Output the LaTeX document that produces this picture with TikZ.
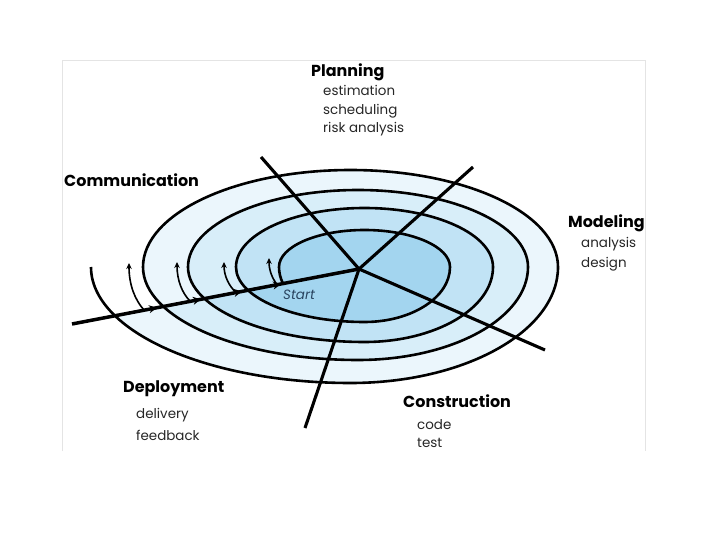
\documentclass[tikz,border=0pt]{standalone}
\usepackage{fontspec}
\setmainfont{Poppins}
\usetikzlibrary{arrows.meta}
\definecolor{cA}{HTML}{A3D5EF}
\definecolor{cB}{HTML}{C1E3F5}
\definecolor{cC}{HTML}{D8EEF9}
\definecolor{cD}{HTML}{EBF6FC}
\definecolor{framec}{HTML}{E4E4E4}
\definecolor{startc}{HTML}{2A4560}
\begin{document}
\begin{tikzpicture}[x=1bp,y=-1bp,
  ring/.style={line width=2.6bp, line join=round},
  spoke/.style={line width=3.1bp},
  mainln/.style={line width=3.5bp},
  lab/.style={anchor=base west, inner sep=0, font=\fontsize{16}{19}\selectfont\bfseries, text=black},
  sub/.style={anchor=base west, inner sep=0, font=\fontsize{13.5}{16}\selectfont, text=black!85},
  smallarr/.style={line width=1.6bp, -{Stealth[length=6bp,width=5.5bp]}},
  linetip/.style={line width=1.6bp, -{Stealth[length=8bp,width=8bp]}},
]
\useasboundingbox (0,0) rectangle (720,540);
\fill[white] (0,0) rectangle (720,540);
% frame
\draw[framec, line width=1bp] (62,451) -- (62,61) -- (645,61) -- (645,451);

% band fills (outer to inner)
\fill[cD] ([shift={(358,267)}]155:215 and 93) arc[start angle=155,end angle=180,x radius=215,y radius=93]
  arc[start angle=180,end angle=360,x radius=207.5,y radius=97]
  arc[start angle=0,end angle=90,x radius=207.5,y radius=116]
  arc[start angle=90,end angle=155,x radius=259.5,y radius=116] -- cycle;
\fill[cC] ([shift={(364.5,267)}]155:176.5 and 75) arc[start angle=155,end angle=180,x radius=176.5,y radius=75]
  arc[start angle=180,end angle=360,x radius=170,y radius=77]
  arc[start angle=0,end angle=90,x radius=170,y radius=93]
  arc[start angle=90,end angle=155,x radius=215,y radius=93] -- cycle;
\fill[cB] ([shift={(364.5,267)}]155:128.5 and 55) arc[start angle=155,end angle=180,x radius=128.5,y radius=55]
  arc[start angle=180,end angle=360,x radius=128.5,y radius=59]
  arc[start angle=0,end angle=90,x radius=128.5,y radius=75]
  arc[start angle=90,end angle=155,x radius=176.5,y radius=75] -- cycle;
\fill[cA] ([shift={(364.5,267)}]162.3:85.5 and 55) arc[start angle=162.3,end angle=180,x radius=85.5,y radius=55]
  arc[start angle=180,end angle=360,x radius=85.5,y radius=37]
  arc[start angle=0,end angle=90,x radius=85.5,y radius=55]
  arc[start angle=90,end angle=155,x radius=128.5,y radius=55] -- cycle;

% spiral
\draw[ring] ([shift={(364.5,267)}]162.3:85.5 and 55) arc[start angle=162.3,end angle=180,x radius=85.5,y radius=55]
  arc[start angle=180,end angle=360,x radius=85.5,y radius=37]
  arc[start angle=0,end angle=90,x radius=85.5,y radius=55]
  arc[start angle=90,end angle=180,x radius=128.5,y radius=55]
  arc[start angle=180,end angle=360,x radius=128.5,y radius=59]
  arc[start angle=0,end angle=90,x radius=128.5,y radius=75]
  arc[start angle=90,end angle=180,x radius=176.5,y radius=75]
  arc[start angle=180,end angle=360,x radius=170,y radius=77]
  arc[start angle=0,end angle=90,x radius=170,y radius=93]
  arc[start angle=90,end angle=180,x radius=215,y radius=93]
  arc[start angle=180,end angle=360,x radius=207.5,y radius=97]
  arc[start angle=0,end angle=90,x radius=207.5,y radius=116]
  arc[start angle=90,end angle=180,x radius=259.5,y radius=116];

% spokes
\coordinate (hub) at (359,269);
\coordinate (sP) at (261,157);
\coordinate (sM) at (473,167);
\coordinate (sC) at (545,350);
\coordinate (sD) at (305,428);
\coordinate (mS) at (72,324);
\draw[spoke] (hub) -- (sP);
\draw[spoke] (hub) -- (sM);
\draw[spoke] (hub) -- (sC);
\draw[spoke] (hub) -- (sD);
\draw[mainln] (mS) -- (hub);

% arrowheads on the main line
\coordinate (t1s) at (150.1,309.0); \coordinate (t1e) at (157,307.7);
\coordinate (t2s) at (194.1,300.6); \coordinate (t2e) at (201,299.3);
\coordinate (t3s) at (235.1,292.7); \coordinate (t3e) at (242,291.4);
\coordinate (t4s) at (274.1,285.3); \coordinate (t4e) at (281,284.0);
\draw[linetip] (t1s) -- (t1e);
\draw[linetip] (t2s) -- (t2e);
\draw[linetip] (t3s) -- (t3e);
\draw[linetip] (t4s) -- (t4e);

% small arrows
\coordinate (a1s) at (144,310); \coordinate (a1e) at (129,263);
\coordinate (a2s) at (190,301); \coordinate (a2e) at (177,262);
\coordinate (a3s) at (236,292.5); \coordinate (a3e) at (224,262);
\coordinate (a4s) at (277,284.5); \coordinate (a4e) at (269,258);
\draw[smallarr] (a1s) .. controls (135,300) and (129,285) .. (a1e);
\draw[smallarr] (a2s) .. controls (182,293) and (177,280) .. (a2e);
\draw[smallarr] (a3s) .. controls (229,286) and (224,276) .. (a3e);
\draw[smallarr] (a4s) .. controls (272,278) and (269,270) .. (a4e);

% labels
\node[lab] (plan) at (311,77) {Planning};
\node[sub] (est) at (323,96) {estimation};
\node[sub] (sch) at (323,114.5) {scheduling};
\node[sub] (risk) at (323,133) {risk analysis};
\node[lab] (comm) at (64,187) {Communication};
\node[lab] (mod) at (568,228) {Modeling};
\node[sub] (ana) at (581,248) {analysis};
\node[sub] (des) at (581,268) {design};
\node[lab] (dep) at (123,392) {Deployment};
\node[sub] (del) at (136,418) {delivery};
\node[sub] (fee) at (136,440) {feedback};
\node[lab] (con) at (403,407) {Construction};
\node[sub] (code) at (417,429) {code};
\node[sub] (test) at (417,447) {test};
\node[anchor=base west, inner sep=0, font=\fontsize{13.5}{16}\selectfont\itshape, text=startc] (start) at (283,299) {Start};
\end{tikzpicture}
\end{document}
